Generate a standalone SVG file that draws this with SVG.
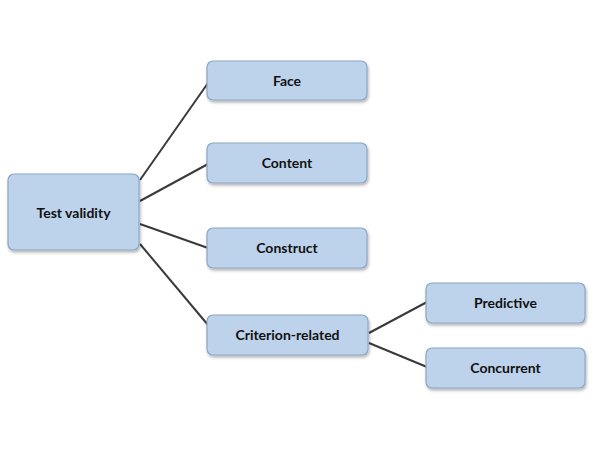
<svg xmlns="http://www.w3.org/2000/svg" width="600" height="468" viewBox="0 0 600 468">
<defs>
<filter id="sh" x="-10%" y="-20%" width="120%" height="150%">
<feDropShadow dx="1" dy="2" stdDeviation="1.5" flood-color="#000" flood-opacity="0.3"/>
</filter>
</defs>
<style>
.box{fill:#bdd3eb;stroke:#8ba6c6;stroke-width:1.2;filter:url(#sh)}
.lbl{font-family:Lato,"Open Sans",sans-serif;font-weight:bold;font-size:14px;fill:#111;text-anchor:middle;dominant-baseline:central}
.edge{stroke:#3a3a3a;stroke-width:2;fill:none}
</style>
<rect width="600" height="468" fill="#fff"/>
<g id="connectors">
<line class="edge" x1="140" y1="180" x2="208" y2="83"/>
<line class="edge" x1="140" y1="201" x2="208" y2="164"/>
<line class="edge" x1="140" y1="224" x2="208" y2="248"/>
<line class="edge" x1="140" y1="244" x2="208" y2="325"/>
<line class="edge" x1="369" y1="333" x2="427" y2="302"/>
<line class="edge" x1="369" y1="343" x2="427" y2="367"/>
</g>
<g id="test-validity"><rect class="box" x="8" y="174" width="131" height="76" rx="6"/><text class="lbl" x="73.5" y="212">Test validity</text></g>
<g id="face"><rect class="box" x="207" y="61" width="160" height="39" rx="6"/><text class="lbl" x="287" y="80">Face</text></g>
<g id="content"><rect class="box" x="207" y="143" width="160" height="40" rx="6"/><text class="lbl" x="287" y="162">Content</text></g>
<g id="construct"><rect class="box" x="207" y="228" width="160" height="40" rx="6"/><text class="lbl" x="287" y="247">Construct</text></g>
<g id="criterion"><rect class="box" x="207" y="315" width="161" height="40" rx="6"/><text class="lbl" x="287.5" y="334">Criterion-related</text></g>
<g id="predictive"><rect class="box" x="426" y="283" width="159" height="40" rx="6"/><text class="lbl" x="505.5" y="302">Predictive</text></g>
<g id="concurrent"><rect class="box" x="426" y="348" width="159" height="40" rx="6"/><text class="lbl" x="505.5" y="367">Concurrent</text></g>
</svg>
